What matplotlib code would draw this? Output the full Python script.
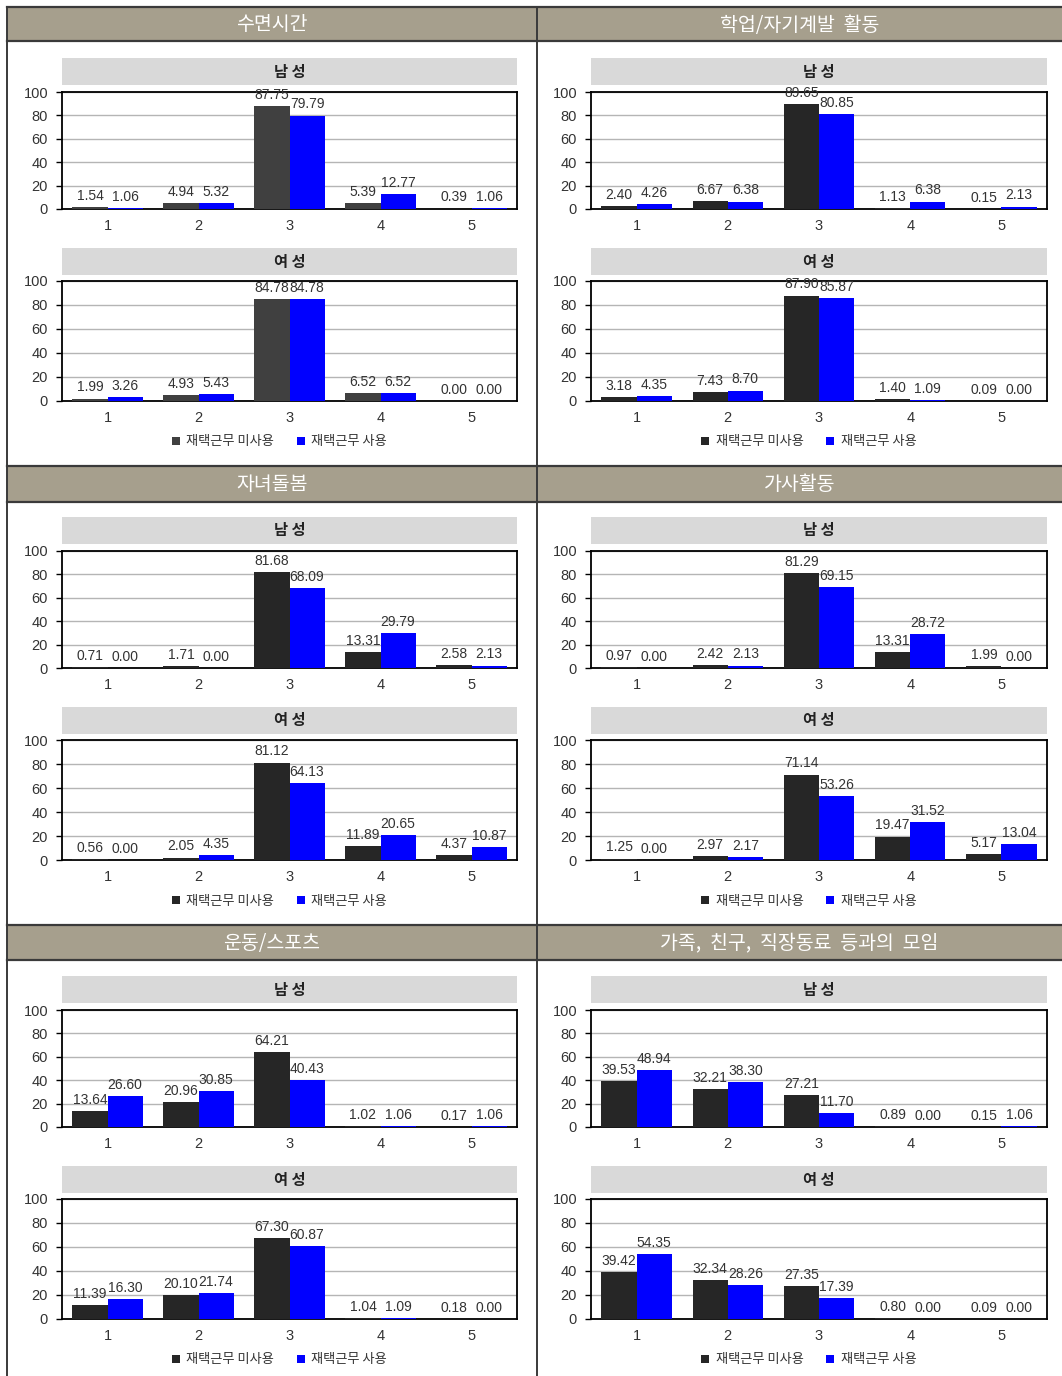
import matplotlib
matplotlib.use("Agg")
import matplotlib.pyplot as plt
from matplotlib.patches import Rectangle, Patch
import numpy as np

plt.rcParams["font.family"] = ["Liberation Sans", "Noto Sans CJK KR", "DejaVu Sans"]

W, H = 1062, 1376

categories = ["1", "2", "3", "4", "5"]
series_names = ["재택근무 미사용", "재택근무 사용"]
sex_titles = ["남 성", "여 성"]

panel_titles = [
    "수면시간", "학업/자기계발  활동",
    "자녀돌봄", "가사활동",
    "운동/스포츠", "가족,  친구,  직장동료  등과의  모임",
]

sleep_m_no = [1.54, 4.94, 87.75, 5.39, 0.39]
sleep_m_yes = [1.06, 5.32, 79.79, 12.77, 1.06]
sleep_f_no = [1.99, 4.93, 84.78, 6.52, 0.00]
sleep_f_yes = [3.26, 5.43, 84.78, 6.52, 0.00]

study_m_no = [2.40, 6.67, 89.65, 1.13, 0.15]
study_m_yes = [4.26, 6.38, 80.85, 6.38, 2.13]
study_f_no = [3.18, 7.43, 87.90, 1.40, 0.09]
study_f_yes = [4.35, 8.70, 85.87, 1.09, 0.00]

child_m_no = [0.71, 1.71, 81.68, 13.31, 2.58]
child_m_yes = [0.00, 0.00, 68.09, 29.79, 2.13]
child_f_no = [0.56, 2.05, 81.12, 11.89, 4.37]
child_f_yes = [0.00, 4.35, 64.13, 20.65, 10.87]

house_m_no = [0.97, 2.42, 81.29, 13.31, 1.99]
house_m_yes = [0.00, 2.13, 69.15, 28.72, 0.00]
house_f_no = [1.25, 2.97, 71.14, 19.47, 5.17]
house_f_yes = [0.00, 2.17, 53.26, 31.52, 13.04]

sport_m_no = [13.64, 20.96, 64.21, 1.02, 0.17]
sport_m_yes = [26.60, 30.85, 40.43, 1.06, 1.06]
sport_f_no = [11.39, 20.10, 67.30, 1.04, 0.18]
sport_f_yes = [16.30, 21.74, 60.87, 1.09, 0.00]

social_m_no = [39.53, 32.21, 27.21, 0.89, 0.15]
social_m_yes = [48.94, 38.30, 11.70, 0.00, 1.06]
social_f_no = [39.42, 32.34, 27.35, 0.80, 0.09]
social_f_yes = [54.35, 28.26, 17.39, 0.00, 0.00]

panels = [
    (sleep_m_no, sleep_m_yes, sleep_f_no, sleep_f_yes),
    (study_m_no, study_m_yes, study_f_no, study_f_yes),
    (child_m_no, child_m_yes, child_f_no, child_f_yes),
    (house_m_no, house_m_yes, house_f_no, house_f_yes),
    (sport_m_no, sport_m_yes, sport_f_no, sport_f_yes),
    (social_m_no, social_m_yes, social_f_no, social_f_yes),
]

HEADER_COLOR = "#A69F8D"
BAND_COLOR = "#D9D9D9"
BLUE = "#0000FF"
TEXT = "#333333"
KR = ["Noto Sans CJK KR", "DejaVu Sans"]


def px(x0, y0, x1, y1):
    return [x0 / W, 1 - y1 / H, (x1 - x0) / W, (y1 - y0) / H]


fig = plt.figure(figsize=(W / 100, H / 100), dpi=100)
fig.patch.set_facecolor("white")

# background layer for frame, headers and grey title bands
overlay = fig.add_axes([0, 0, 1, 1], zorder=-1)
overlay.set_xlim(0, W)
overlay.set_ylim(H, 0)
overlay.axis("off")

header_tops = [7, 466, 925]
header_h = [34, 36, 35]
col_x = [(7, 537), (537, 1062)]

for r, (ht, hh) in enumerate(zip(header_tops, header_h)):
    overlay.add_patch(Rectangle((7, ht), W - 7, hh, facecolor=HEADER_COLOR,
                                edgecolor="none"))
    overlay.plot([7, W], [ht, ht], color="#3a3a3a", lw=1.6)
    overlay.plot([7, W], [ht + hh, ht + hh], color="#3a3a3a", lw=1.6)
    for c in range(2):
        x0, x1 = col_x[c]
        overlay.text((x0 + x1) / 2, ht + hh / 2 + 1, panel_titles[r * 2 + c],
                     color="white", fontsize=14, ha="center", va="center",
                     family=KR)

overlay.plot([7, 7], [7, H], color="#3a3a3a", lw=1.4)
overlay.plot([537, 537], [7, H], color="#3a3a3a", lw=1.4)

axes_x = [(62, 517), (591, 1047)]
# offsets from header top
male_band = (51, 78)
male_ax = (85, 202)
female_band = (241, 268)
female_ax = (274, 394)
legend_y = 434

width = 0.385
x = np.arange(len(categories))

for idx, data in enumerate(panels):
    r, c = divmod(idx, 2)
    ht = header_tops[r]
    ax0, ax1 = axes_x[c]
    dark = "#404040" if idx == 0 else "#262626"
    for s in range(2):
        band = male_band if s == 0 else female_band
        axr = male_ax if s == 0 else female_ax
        no_vals = data[s * 2]
        yes_vals = data[s * 2 + 1]

        overlay.add_patch(Rectangle((ax0, ht + band[0]), ax1 - ax0,
                                    band[1] - band[0], facecolor=BAND_COLOR,
                                    edgecolor="none"))
        overlay.text((ax0 + ax1) / 2, ht + (band[0] + band[1]) / 2,
                     sex_titles[s], fontsize=11, fontweight="bold",
                     color="#222222", ha="center", va="center", family=KR)

        ax = fig.add_axes(px(ax0, ht + axr[0], ax1, ht + axr[1]))
        b1 = ax.bar(x - width / 2, no_vals, width, color=dark, zorder=3)
        b2 = ax.bar(x + width / 2, yes_vals, width, color=BLUE, zorder=3)
        for bars, vals in ((b1, no_vals), (b2, yes_vals)):
            for rect, v in zip(bars, vals):
                ax.annotate(f"{v:.2f}", (rect.get_x() + rect.get_width() / 2, v),
                            xytext=(0, 3), textcoords="offset points",
                            ha="center", va="bottom", fontsize=10,
                            color=TEXT, zorder=4)
        ax.set_xlim(-0.5, 4.5)
        ax.set_ylim(0, 100)
        ax.set_yticks([0, 20, 40, 60, 80, 100])
        ax.set_xticks(x)
        ax.set_xticklabels(categories)
        ax.tick_params(axis="x", length=0, pad=7, labelsize=10.5, labelcolor=TEXT)
        ax.tick_params(axis="y", length=4, width=1, pad=6, labelsize=10.5,
                       labelcolor=TEXT)
        ax.yaxis.grid(True, color="#B5B5B5", lw=1.0, zorder=0)
        ax.set_axisbelow(True)
        for sp in ax.spines.values():
            sp.set_color("black")
            sp.set_linewidth(1.3)

    handles = [Patch(facecolor=dark, label=series_names[0]),
               Patch(facecolor=BLUE, label=series_names[1])]
    cx = (ax0 + ax1) / 2 - 10
    fig.legend(handles=handles, loc="center",
               bbox_to_anchor=(cx / W, 1 - (ht + legend_y + 1) / H),
               ncol=2, frameon=False, handlelength=0.6,
               handleheight=0.6, handletextpad=0.5, columnspacing=1.7,
               labelcolor=TEXT, prop={"family": KR, "size": 9.5})

fig.savefig("out.png", dpi=100)
